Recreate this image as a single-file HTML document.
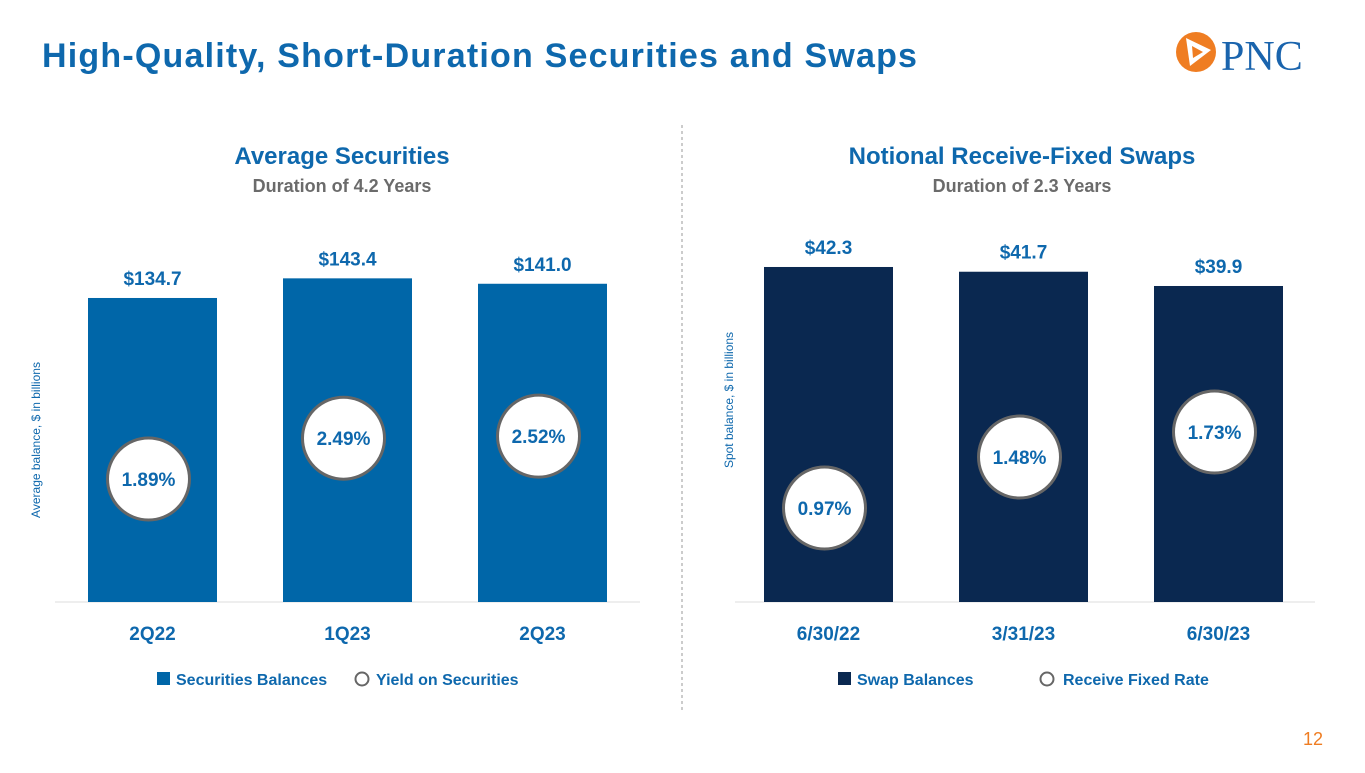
<!DOCTYPE html>
<html><head><meta charset="utf-8"><style>
body{margin:0;width:1365px;height:768px;background:#fff;overflow:hidden;font-family:"Liberation Sans",sans-serif}
svg text{font-family:"Liberation Sans",sans-serif}
</style></head><body>
<svg id="s" width="1365" height="768">
<text x="42" y="67" font-size="34" font-weight="bold" fill="#0e68ad" letter-spacing="1.2">High-Quality, Short-Duration Securities and Swaps</text>
<g>
<circle cx="1196" cy="52" r="20" fill="#ef7d22"/>
<path d="M1186 38 L1211 50 L1190 66 Z" fill="#fff"/><path d="M1192 46 L1203 52 L1193 58 Z" fill="#ef7d22"/>
<text x="1221" y="70" font-size="42" style="font-family:'Liberation Serif',serif" fill="#1a64ad">PNC</text>
</g>
<line x1="682" y1="125" x2="682" y2="710" stroke="#999" stroke-dasharray="3,3"/>
<text x="342" y="164" text-anchor="middle" font-size="24" font-weight="bold" fill="#0e68ad">Average Securities</text>
<text x="342" y="192" text-anchor="middle" font-size="18" font-weight="bold" fill="#6b6b6b">Duration of 4.2 Years</text>
<text x="1022" y="164" text-anchor="middle" font-size="24" font-weight="bold" fill="#0e68ad">Notional Receive-Fixed Swaps</text>
<text x="1022" y="192" text-anchor="middle" font-size="18" font-weight="bold" fill="#6b6b6b">Duration of 2.3 Years</text>
<text transform="translate(40,440) rotate(-90)" text-anchor="middle" font-size="12" fill="#0e68ad">Average balance, $ in billions</text>
<text transform="translate(733,400) rotate(-90)" text-anchor="middle" font-size="12" fill="#0e68ad">Spot balance, $ in billions</text>
<line x1="55" y1="602" x2="640" y2="602" stroke="#ddd"/>
<line x1="735" y1="602" x2="1315" y2="602" stroke="#ddd"/>
<g>
<rect x="157" y="672" width="13" height="13" fill="#0066a8"/>
<text x="176" y="685" font-size="16" font-weight="bold" fill="#0e68ad">Securities Balances</text>
<circle cx="362" cy="679" r="6.5" fill="#fff" stroke="#666" stroke-width="2"/>
<text x="376" y="685" font-size="16" font-weight="bold" fill="#0e68ad">Yield on Securities</text>
</g>
<g>
<rect x="838" y="672" width="13" height="13" fill="#0a2850"/>
<text x="857" y="685" font-size="16" font-weight="bold" fill="#0e68ad">Swap Balances</text>
<circle cx="1047" cy="679" r="6.5" fill="#fff" stroke="#666" stroke-width="2"/>
<text x="1063" y="685" font-size="16" font-weight="bold" fill="#0e68ad">Receive Fixed Rate</text>
</g>
<text x="1323" y="745" text-anchor="end" font-size="18" fill="#ef7d22">12</text>
</svg>
<script>
const leftCats=["2Q22","1Q23","2Q23"];
const leftVals=[134.7,143.4,141.0];
const leftYields=[1.89,2.49,2.52];
const rightCats=["6/30/22","3/31/23","6/30/23"];
const rightVals=[42.3,41.7,39.9];
const rightRates=[0.97,1.48,1.73];
const NS="http://www.w3.org/2000/svg";
const svg=document.getElementById('s');
function mk(t,a){const e=document.createElementNS(NS,t);for(const k in a)e.setAttribute(k,a[k]);svg.appendChild(e);return e;}
function chart(cats,vals,rates,x0,yScale,rScale,color,pre){
  cats.forEach((c,i)=>{
    const x=x0+i*195,w=129,h=yScale(vals[i]);
    const r=mk('rect',{x:x,y:602-h,width:w,height:h,fill:color});
    
    
    const v=mk('text',{x:x+w/2,y:602-h-13,'text-anchor':'middle','font-size':19,'font-weight':'bold',fill:'#0e68ad'});
    v.textContent='$'+vals[i].toFixed(1);
    
    
    const l=mk('text',{x:x+w/2,y:640,'text-anchor':'middle','font-size':19,'font-weight':'bold',fill:'#0e68ad'});
    l.textContent=c;
    
    
    const cy=rScale(rates[i]);
    const ci=mk('circle',{cx:x+w/2-4,cy:cy,r:41,fill:'#fff',stroke:'#666','stroke-width':3});
    
    
    const t=mk('text',{x:x+w/2-4,y:cy+7,'text-anchor':'middle','font-size':19,'font-weight':'bold',fill:'#0e68ad'});
    t.textContent=rates[i].toFixed(2)+'%';
    
    
  });
}
chart(leftCats,leftVals,leftYields,88,v=>v*2.257,v=>479-(v-1.89)*68,'#0066a8','left');
chart(rightCats,rightVals,rightRates,764,v=>v*7.92,v=>508-(v-0.97)*100,'#0a2850','right');
</script>
</body></html>
